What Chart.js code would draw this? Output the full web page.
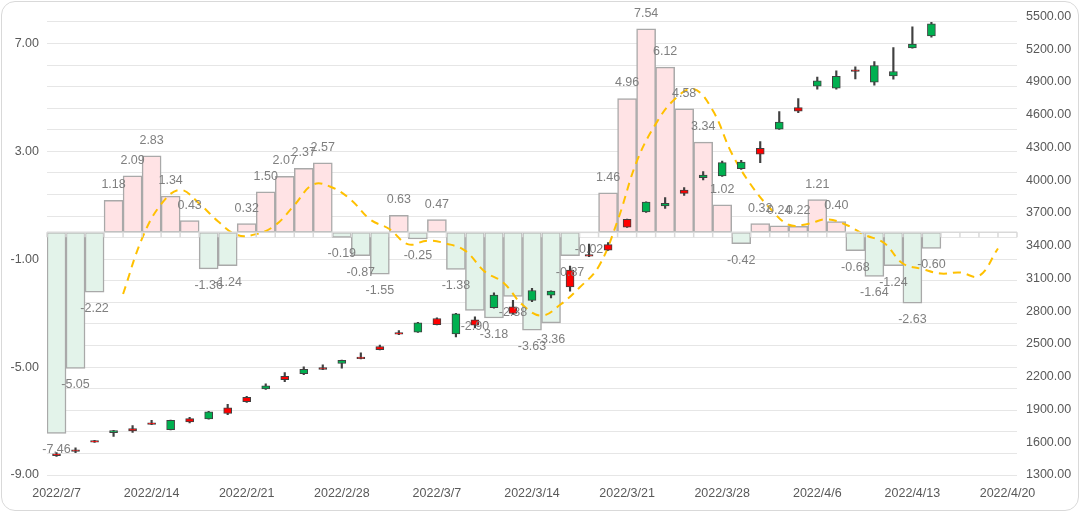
<!DOCTYPE html>
<html>
<head>
<meta charset="utf-8">
<title>Index chart</title>
<script src="https://cdn.jsdelivr.net/npm/chart.js@4/dist/chart.umd.min.js"></script>
<style>
  html, body { margin: 0; padding: 0; background: #fff; }
  #wrap { position: relative; width: 1080px; height: 512px; }
  #frame {
    position: absolute; left: 1px; top: 1px; right: 1px; bottom: 1px;
    border: 1.5px solid #d9d9d9; border-radius: 14px; pointer-events: none;
  }
</style>
</head>
<body>
<div id="wrap">
  <canvas id="chart"></canvas>
  <div id="frame"></div>
</div>
<script>
// trading days
const dates = [
  '2022/2/7', '2022/2/8', '2022/2/9', '2022/2/10', '2022/2/11',
  '2022/2/14', '2022/2/15', '2022/2/16', '2022/2/17', '2022/2/18',
  '2022/2/21', '2022/2/22', '2022/2/23', '2022/2/24', '2022/2/25',
  '2022/2/28', '2022/3/1', '2022/3/2', '2022/3/3', '2022/3/4',
  '2022/3/7', '2022/3/8', '2022/3/9', '2022/3/10', '2022/3/11',
  '2022/3/14', '2022/3/15', '2022/3/16', '2022/3/17', '2022/3/18',
  '2022/3/21', '2022/3/22', '2022/3/23', '2022/3/24', '2022/3/25',
  '2022/3/28', '2022/3/29', '2022/3/30', '2022/3/31', '2022/4/1',
  '2022/4/6', '2022/4/7', '2022/4/8', '2022/4/11', '2022/4/12',
  '2022/4/13', '2022/4/14', '2022/4/15', '2022/4/18', '2022/4/19',
  '2022/4/20'
];

// bar values (left axis)
const changes = [
  -7.46, -5.05, -2.22, 1.18, 2.09, 2.83, 1.34, 0.43, -1.36, -1.24,
  0.32, 1.50, 2.07, 2.37, 2.57, -0.19, -0.87, -1.55, 0.63, -0.25,
  0.47, -1.38, -2.90, -3.18, -2.38, -3.63, -3.36, -0.87, -0.02, 1.46,
  4.96, 7.54, 6.12, 4.58, 3.34, 1.02, -0.42, 0.32, 0.24, 0.22,
  1.21, 0.40, -0.68, -1.64, -1.24, -2.63, -0.60, null, null, null, null
];

// dashed average line (left axis)
const avgLine = [
  null, null, null, null, -2.29, -0.23, 1.04, 1.57, 1.07, 0.40,
  -0.10, -0.07, 0.26, 1.00, 1.77, 1.66, 1.19, 0.47, 0.12, -0.45,
  -0.31, -0.42, -0.69, -1.45, -1.87, -2.69, -3.09, -2.68, -2.05, -1.28,
  0.43, 2.61, 4.01, 4.93, 5.31, 4.52, 2.93, 1.77, 0.90, 0.28,
  0.31, 0.48, 0.28, -0.10, -0.39, -1.16, -1.36, -1.53, -1.49, -1.62, -0.60
];

// candles (right axis)
const openP = [
  1478, 1515, 1600, 1706, 1704, 1764, 1801, 1786, 1878, 1865,
  1972, 2116, 2174, 2269, 2268, 2351, 2366, 2449, 2590, 2694,
  2678, 2777, 2672, 2947, 2779, 2990, 2984, 3024, 3304, 3360,
  3571, 3800, 3788, 3880, 4048, 4162, 4167, 4238, 4534, 4632,
  4910, 4953, 4998, 5051, 4996, 5247, 5433, null, null, null, null
];
const highP = [
  1505, 1548, 1618, 1710, 1752, 1800, 1804, 1828, 1884, 1948,
  2020, 2135, 2238, 2291, 2309, 2353, 2419, 2489, 2623, 2698,
  2740, 2780, 2749, 2969, 2899, 3011, 2988, 3213, 3415, 3428,
  3645, 3803, 3841, 3932, 4079, 4176, 4183, 4354, 4629, 4749,
  4944, 5002, 5039, 5088, 5216, 5405, 5446, null, null, null, null
];
const lowP = [
  1470, 1505, 1598, 1654, 1691, 1762, 1712, 1777, 1812, 1853,
  1965, 2085, 2156, 2220, 2266, 2278, 2364, 2446, 2586, 2605,
  2675, 2566, 2648, 2828, 2770, 2887, 2923, 2984, 3300, 3358,
  3568, 3706, 3742, 3862, 4002, 4036, 4100, 4162, 4465, 4620,
  4835, 4834, 4929, 4871, 4926, 5210, 5311, null, null, null, null
];
const closeP = [
  1494, 1530, 1615, 1688, 1725, 1778, 1715, 1816, 1814, 1915,
  2012, 2089, 2204, 2229, 2283, 2321, 2380, 2477, 2604, 2608,
  2734, 2593, 2722, 2832, 2841, 2899, 2947, 3177, 3318, 3410,
  3642, 3709, 3764, 3910, 4024, 4039, 4107, 4293, 4467, 4666,
  4861, 4843, 5012, 4898, 4956, 5213, 5323, null, null, null, null
];

const leftLabelTicks = [-9, -5, -1, 3, 7];
const rightStep = 300;

// gridlines every 0.8 on the left axis, labels only every 4
const leftGrid = [];
for (let k = 0; k <= 21; k++) leftGrid.push(Number((-9 + 0.8 * k).toFixed(1)));

const labelColor = '#595959';
const valueColor = '#7f7f7f';
const fontSize = 12.5;

Chart.defaults.font.family = "'Liberation Sans', Arial, sans-serif";
Chart.defaults.font.size = fontSize;
Chart.defaults.color = labelColor;

// zero axis line with tick marks, then bar value labels
const overlay = {
  id: 'overlay',
  afterDatasetsDraw(chart) {
    const { ctx, chartArea: a, scales } = chart;
    const y0 = scales.y.getPixelForValue(0);
    const n = dates.length;
    ctx.save();
    ctx.strokeStyle = '#d9d9d9';
    ctx.lineWidth = 1.5;
    ctx.beginPath();
    ctx.moveTo(a.left, y0);
    ctx.lineTo(a.right, y0);
    for (let i = 0; i <= n; i++) {
      const px = a.left + (a.right - a.left) * i / n;
      ctx.moveTo(px, y0);
      ctx.lineTo(px, y0 + 5);
    }
    ctx.stroke();

    const meta = chart.getDatasetMeta(0);
    ctx.fillStyle = valueColor;
    ctx.font = fontSize + "px 'Liberation Sans', Arial, sans-serif";
    ctx.textAlign = 'center';
    ctx.textBaseline = 'middle';
    meta.data.forEach((el, i) => {
      const v = changes[i];
      if (v == null) return;
      const ty = v >= 0 ? el.y - 15.5 : el.y + 16.5;
      ctx.fillText(v.toFixed(2), el.x, ty);
    });
    ctx.restore();
  }
};

const linePoints = [];
avgLine.forEach((v, i) => { if (v != null) linePoints.push({ x: i, y: v }); });

const bodies = openP.map((o, i) => (o == null ? null : [o, closeP[i]]));
const wicks = lowP.map((l, i) => (l == null ? null : [l, highP[i]]));
const bodyColors = openP.map((o, i) => (closeP[i] > o ? '#ff0000' : '#00b050'));

const ctx = document.getElementById('chart').getContext('2d');
new Chart(ctx, {
  data: {
    labels: dates,
    datasets: [
      {
        type: 'bar',
        label: 'change',
        data: changes,
        yAxisID: 'y',
        xAxisID: 'x',
        grouped: false,
        categoryPercentage: 1,
        barPercentage: 1,
        backgroundColor: changes.map(v => (v >= 0 ? '#ffe3e5' : '#e3f3ea')),
        borderColor: '#a9a9a9',
        borderWidth: 1.5,
        borderSkipped: false,
        order: 4,
      },
      {
        type: 'line',
        label: 'average',
        data: linePoints,
        xAxisID: 'xl',
        yAxisID: 'y',
        borderColor: '#ffc000',
        borderWidth: 2,
        borderDash: [8, 6],
        pointRadius: 0,
        tension: 0.4,
        fill: false,
        order: 3,
      },
      {
        type: 'bar',
        label: 'wick',
        data: wicks,
        xAxisID: 'x',
        yAxisID: 'y2',
        grouped: false,
        barThickness: 1.5,
        backgroundColor: '#404040',
        borderWidth: 0,
        order: 2,
      },
      {
        type: 'bar',
        label: 'body',
        data: bodies,
        xAxisID: 'x',
        yAxisID: 'y2',
        grouped: false,
        barThickness: 8,
        backgroundColor: bodyColors,
        borderColor: '#404040',
        borderWidth: 1,
        borderSkipped: false,
        order: 1,
      },
    ],
  },
  options: {
    responsive: true,
    maintainAspectRatio: false,
    animation: false,
    layout: { padding: { top: 16, left: 0, right: 0, bottom: 0 } },
    plugins: {
      legend: { display: false },
      tooltip: { enabled: false },
    },
    scales: {
      x: {
        type: 'category',
        offset: true,
        grid: { display: false, drawTicks: false },
        border: { display: false },
        ticks: {
          autoSkip: false,
          maxRotation: 0,
          padding: 11,
          color: labelColor,
          callback: (v, i) => (i % 5 === 0 ? dates[i] : ''),
        },
        afterFit: s => { s.height = 37; },
      },
      xl: { type: 'linear', display: false, min: 0, max: dates.length },
      y: {
        position: 'left',
        min: -9,
        max: 8,
        afterBuildTicks: s => { s.ticks = leftGrid.map(v => ({ value: v })); },
        ticks: {
          autoSkip: false,
          padding: 8,
          color: labelColor,
          callback: v => (leftLabelTicks.includes(v) ? v.toFixed(2) : ''),
        },
        grid: { color: '#e6e6e6', lineWidth: 1, drawTicks: false },
        border: { display: false },
        afterFit: s => { s.width = 47; },
      },
      y2: {
        position: 'right',
        min: 1300,
        max: 5500,
        ticks: { stepSize: rightStep, padding: 9, color: labelColor, callback: v => v.toFixed(2) },
        grid: { display: false, drawTicks: false },
        border: { display: false },
        afterFit: s => { s.width = 63; },
      },
    },
  },
  plugins: [overlay],
});
</script>
</body>
</html>
